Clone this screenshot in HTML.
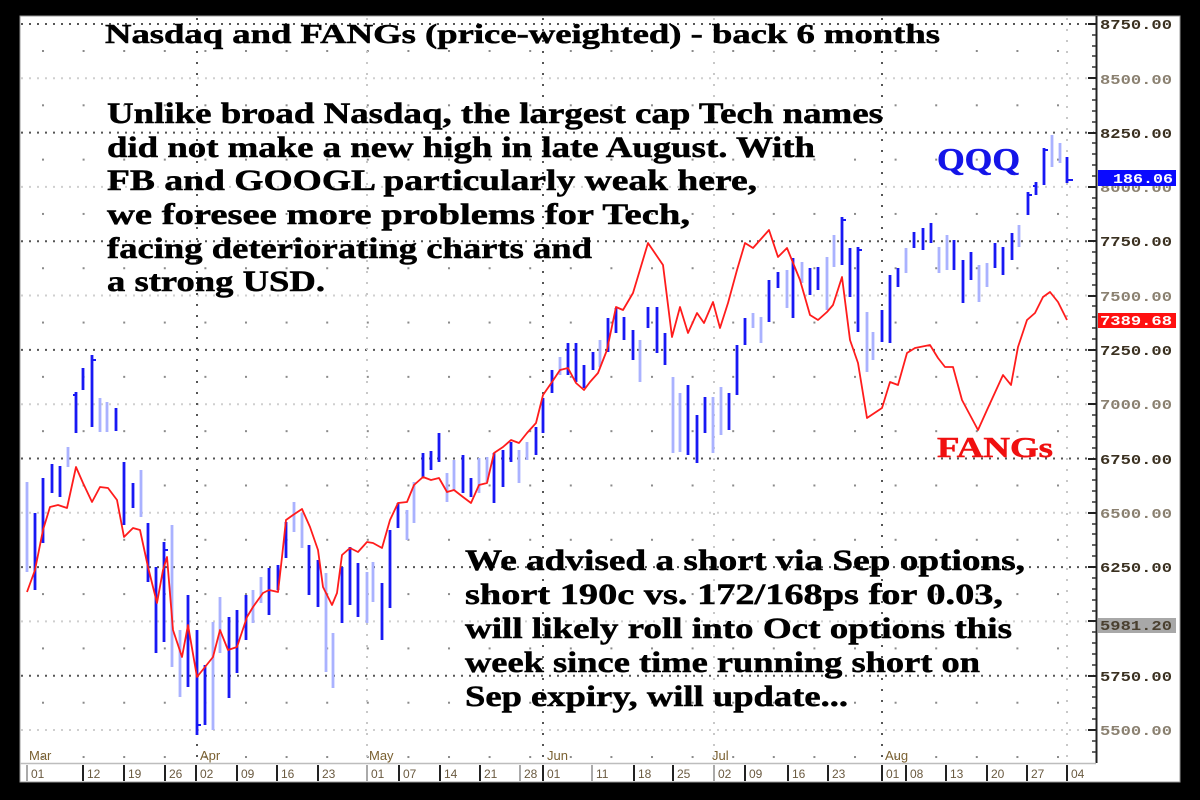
<!DOCTYPE html>
<html><head><meta charset="utf-8"><style>
html,body{margin:0;padding:0;background:#000;}
svg{display:block;}
.t{font-family:"Liberation Serif",serif;font-weight:bold;}
.ax{font-family:"Liberation Mono",monospace;font-size:14px;font-weight:bold;}
.dt{font-family:"Liberation Sans",sans-serif;font-size:12px;fill:#6a5a40;}
.mo{font-family:"Liberation Sans",sans-serif;font-size:13px;fill:#7a6030;}
</style></head><body>
<svg width="1200" height="800" viewBox="0 0 1200 800" xmlns="http://www.w3.org/2000/svg">
<defs>
<pattern id="sd" patternUnits="userSpaceOnUse" x="42" y="50" width="40.6" height="54.31">
<rect x="0" y="0" width="2" height="2" fill="#8a8a8a"/>
</pattern>
</defs>
<rect x="0" y="0" width="1200" height="800" fill="#000"/>
<rect x="20" y="16" width="1160" height="766" fill="#fff" stroke="#999" stroke-width="1"/>

<rect x="21" y="17" width="1074" height="745" fill="url(#sd)"/>

<g stroke="#cfcfcf" stroke-width="2" stroke-dasharray="2 6">
<line x1="21" y1="78.3" x2="1094" y2="78.3"/>
<line x1="21" y1="186.9" x2="1094" y2="186.9"/>
<line x1="21" y1="295.5" x2="1094" y2="295.5"/>
<line x1="21" y1="404.2" x2="1094" y2="404.2"/>
<line x1="21" y1="512.8" x2="1094" y2="512.8"/>
<line x1="21" y1="621.4" x2="1094" y2="621.4"/>
<line x1="21" y1="730" x2="1094" y2="730"/>
</g>
<g stroke="#555" stroke-width="2" stroke-dasharray="2 6">
<line x1="21" y1="24" x2="1094" y2="24"/>
<line x1="21" y1="132.6" x2="1094" y2="132.6"/>
<line x1="21" y1="241.2" x2="1094" y2="241.2"/>
<line x1="21" y1="349.9" x2="1094" y2="349.9"/>
<line x1="21" y1="458.5" x2="1094" y2="458.5"/>
<line x1="21" y1="567.1" x2="1094" y2="567.1"/>
<line x1="21" y1="675.7" x2="1094" y2="675.7"/>
</g>
<g stroke="#555" stroke-width="2" stroke-dasharray="2 9">
<line x1="197" y1="18" x2="197" y2="762"/>
<line x1="543" y1="18" x2="543" y2="762"/>
<line x1="882" y1="18" x2="882" y2="762"/>
</g>
<g stroke="#c8c8c8" stroke-width="2" stroke-dasharray="2 9">
<line x1="367" y1="18" x2="367" y2="762"/>
<line x1="714" y1="18" x2="714" y2="762"/>
<line x1="1067" y1="18" x2="1067" y2="762"/>
</g>

<path fill="none" stroke="#aab2ff" stroke-width="2.8" d="
M27 482V572M68 447V467M100 398V432M107 402V432M141 470V517M172 525V667M180 630V697M213 622V730M220 597V653
M253 590V623M261 577V603M294 502V532M302 513V548M326 573V672M333 633V688M367 572V623M373 562V602M407 510V540
M414 482V523M447 473V502M454 460V490M479 458V493M487 457V482M519 450V483M527 442V460M560 357V375M600 340V367
M640 340V382M673 377V453M680 393V452M713 397V453M721 387V435M753 313V328M761 317V343M787 270V308M802 262V283
M827 257V310M834 235V267M867 312V372M873 332V360M906 248V273M939 247V273M947 235V270M979 265V302M987 263V287
M1019 225V247M1052 135V167M1060 143V163"/>
<path fill="none" stroke="#1818f4" stroke-width="2.8" d="
M35 513V590M43 478V543M52 464V493M60 466V497M76 392V433M83 368V390M92 355V427M116 408V431M124 462V525M133 483V508
M148 523V582M156 567V653M164 542V642M188 595V687M197 630V735M205 665V725M229 617V698M237 610V673M246 595V640
M269 568V615M278 565V590M286 522V558M309 545V595M318 560V607M342 567V623M350 547V605M358 563V617M382 583V640
M390 530V608M398 503V528M423 453V477M431 451V470M439 433V462M463 455V493M471 478V497M494 453V503M503 450V487
M511 442V462M536 427V455M543 398V433M552 370V393M568 343V375M576 343V382M584 365V388M593 352V370M608 318V352
M616 308V333M624 317V340M633 330V360M648 307V328M657 307V353M665 333V365M688 385V455M697 415V463M705 397V433
M729 393V430M737 345V395M745 318V345M769 280V322M778 272V288M793 258V318M810 268V295M818 267V290M842 217V265
M850 248V297M858 247V332M882 310V342M890 275V343M898 268V287M914 232V248M923 228V250M931 223V243M954 240V270
M963 260V303M971 252V280M995 243V268M1003 247V275M1012 233V260M1028 192V215M1036 182V195M1044 148V185M1067 157V183"/>
<path fill="none" stroke="#1818f4" stroke-width="2" d="M1067 180h6M1044 150h4M1028 195h4M1036 186h-3M76 395h-3M92 360h4M842 220h4M858 250h4M197 725h4M164 550h4"/>

<polyline fill="none" stroke="#ff1c1c" stroke-width="1.8" stroke-linejoin="round" points="
27,592 35,570 43,530 50,507 58,505 67,508 76,467 83,483 92,502 100,487 108,488 117,500 124,537 133,528 140,530
148,567 157,603 163,570 167,557 173,630 182,657 188,625 197,677 205,667 213,657 220,630 228,650 237,647 247,617
253,607 263,593 269,590 278,592 282,557 286,520 293,515 302,509 310,527 318,550 323,587 332,605 337,593 342,555
350,548 358,552 367,542 373,543 382,548 390,520 398,503 407,502 414,485 423,477 431,480 439,478 447,492 454,490
463,497 471,503 479,485 487,483 494,453 503,447 511,440 519,443 527,433 536,423 543,395 552,382 560,370 568,368
576,383 584,390 590,382 598,373 607,350 616,307 623,310 633,293 648,243 663,265 672,337 680,307 688,333 697,313
704,323 713,302 720,328 728,303 737,270 745,243 753,248 769,230 778,257 787,248 800,280 810,315 818,320 827,312
833,305 842,277 850,340 858,363 867,418 882,408 890,382 898,385 907,353 915,348 930,345 938,358 945,367 953,367
962,400 978,430 987,410 1003,375 1011,385 1018,347 1027,320 1035,313 1043,297 1050,292 1058,302 1067,320"/>

<line x1="1096.5" y1="16" x2="1096.5" y2="763" stroke="#222" stroke-width="2"/>
<path fill="none" stroke="#333" stroke-width="1.5" d="
M1092 35h4M1092 46h4M1092 56h4M1092 67h4M1092 89h4M1092 100h4M1092 111h4M1092 122h4M1092 143h4M1092 154h4M1092 165h4M1092 176h4
M1092 198h4M1092 208h4M1092 219h4M1092 230h4M1092 252h4M1092 263h4M1092 274h4M1092 285h4M1092 306h4M1092 317h4M1092 328h4M1092 339h4
M1092 361h4M1092 371h4M1092 382h4M1092 393h4M1092 415h4M1092 426h4M1092 437h4M1092 448h4M1092 469h4M1092 480h4M1092 491h4M1092 502h4
M1092 524h4M1092 534h4M1092 545h4M1092 556h4M1092 578h4M1092 589h4M1092 600h4M1092 611h4M1092 632h4M1092 643h4M1092 654h4M1092 665h4
M1092 687h4M1092 697h4M1092 708h4M1092 719h4M1092 741h4M1092 752h4"/>
<path fill="none" stroke="#222" stroke-width="2" d="M1088 24h8M1088 78h8M1088 133h8M1088 187h8M1088 241h8M1088 296h8M1088 350h8M1088 404h8M1088 459h8M1088 513h8M1088 567h8M1088 621h8M1088 676h8M1088 730h8"/>

<g class="ax">
<text x="1100" y="29" textLength="72" lengthAdjust="spacingAndGlyphs" fill="#3a3020">8750.00</text>
<text x="1100" y="84" textLength="72" lengthAdjust="spacingAndGlyphs" fill="#8a8070">8500.00</text>
<text x="1100" y="138" textLength="72" lengthAdjust="spacingAndGlyphs" fill="#3a3020">8250.00</text>
<text x="1100" y="192" textLength="72" lengthAdjust="spacingAndGlyphs" fill="#8a8070">8000.00</text>
<text x="1100" y="246" textLength="72" lengthAdjust="spacingAndGlyphs" fill="#3a3020">7750.00</text>
<text x="1100" y="301" textLength="72" lengthAdjust="spacingAndGlyphs" fill="#8a8070">7500.00</text>
<text x="1100" y="355" textLength="72" lengthAdjust="spacingAndGlyphs" fill="#3a3020">7250.00</text>
<text x="1100" y="409" textLength="72" lengthAdjust="spacingAndGlyphs" fill="#8a8070">7000.00</text>
<text x="1100" y="464" textLength="72" lengthAdjust="spacingAndGlyphs" fill="#3a3020">6750.00</text>
<text x="1100" y="518" textLength="72" lengthAdjust="spacingAndGlyphs" fill="#8a8070">6500.00</text>
<text x="1100" y="572" textLength="72" lengthAdjust="spacingAndGlyphs" fill="#3a3020">6250.00</text>
<text x="1100" y="681" textLength="72" lengthAdjust="spacingAndGlyphs" fill="#3a3020">5750.00</text>
<text x="1100" y="735" textLength="72" lengthAdjust="spacingAndGlyphs" fill="#8a8070">5500.00</text>
</g>
<rect x="1098" y="170" width="78" height="16" fill="#0a0aff"/>
<text class="ax" x="1113" y="183" textLength="60" lengthAdjust="spacingAndGlyphs" fill="#fff">186.06</text>
<rect x="1098" y="313" width="78" height="15" fill="#ff1010"/>
<text class="ax" x="1100" y="325" textLength="72" lengthAdjust="spacingAndGlyphs" fill="#fff">7389.68</text>
<rect x="1098" y="618" width="78" height="15" fill="#a8a8a8"/>
<text class="ax" x="1100" y="630" textLength="72" lengthAdjust="spacingAndGlyphs" fill="#4a4030">5981.20</text>

<line x1="20" y1="763.5" x2="1096" y2="763.5" stroke="#bdbdbd" stroke-width="1.5"/>
<g class="mo">
<text x="29" y="760">Mar</text>
<text x="200" y="760">Apr</text>
<text x="369" y="760">May</text>
<text x="547" y="760">Jun</text>
<text x="712" y="760">Jul</text>
<text x="885" y="760">Aug</text>
</g>
<path fill="none" stroke="#222" stroke-width="2" d="M83 765V781M124 765V781M165 765V781M196 765V781M237 765V781M277 765V781M318 765V781M399 765V781M440 765V781M480 765V781M543 765V781M634 765V781M673 765V781M745 765V781M788 765V781M828 765V781M882 765V781M906 765V781M946 765V781M987 765V781M1027 765V781M1067 765V781"/>
<path fill="none" stroke="#aaa" stroke-width="2" d="M27 765V781M367 765V781M520 765V781M592 765V781M714 765V781"/>
<g class="dt">
<text x="31" y="778">01</text>
<text x="87" y="778">12</text>
<text x="128" y="778">19</text>
<text x="169" y="778">26</text>
<text x="200" y="778">02</text>
<text x="241" y="778">09</text>
<text x="281" y="778">16</text>
<text x="322" y="778">23</text>
<text x="371" y="778">01</text>
<text x="403" y="778">07</text>
<text x="444" y="778">14</text>
<text x="484" y="778">21</text>
<text x="524" y="778">28</text>
<text x="547" y="778">01</text>
<text x="596" y="778">11</text>
<text x="638" y="778">18</text>
<text x="677" y="778">25</text>
<text x="718" y="778">02</text>
<text x="749" y="778">09</text>
<text x="792" y="778">16</text>
<text x="832" y="778">23</text>
<text x="886" y="778">01</text>
<text x="910" y="778">08</text>
<text x="950" y="778">13</text>
<text x="991" y="778">20</text>
<text x="1031" y="778">27</text>
<text x="1071" y="778">04</text>
</g>

<g class="t" fill="#000" stroke="#000" stroke-width="0.5">
<text x="105" y="43" font-size="27" textLength="835" lengthAdjust="spacingAndGlyphs">Nasdaq and FANGs (price-weighted) - back 6 months</text>
<text x="107" y="123" font-size="30" textLength="776" lengthAdjust="spacingAndGlyphs">Unlike broad Nasdaq, the largest cap Tech names</text>
<text x="107" y="157" font-size="30" textLength="708" lengthAdjust="spacingAndGlyphs">did not make a new high in late August. With</text>
<text x="107" y="190" font-size="30" textLength="650" lengthAdjust="spacingAndGlyphs">FB and GOOGL particularly weak here,</text>
<text x="107" y="224" font-size="30" textLength="583" lengthAdjust="spacingAndGlyphs">we foresee more problems for Tech,</text>
<text x="107" y="258" font-size="30" textLength="485" lengthAdjust="spacingAndGlyphs">facing deteriorating charts and</text>
<text x="107" y="291" font-size="30" textLength="218" lengthAdjust="spacingAndGlyphs">a strong USD.</text>
<text x="465" y="570" font-size="30" textLength="560" lengthAdjust="spacingAndGlyphs">We advised a short via Sep options,</text>
<text x="465" y="604" font-size="30" textLength="538" lengthAdjust="spacingAndGlyphs">short 190c vs. 172/168ps for 0.03,</text>
<text x="465" y="638" font-size="30" textLength="547" lengthAdjust="spacingAndGlyphs">will likely roll into Oct options this</text>
<text x="465" y="672" font-size="30" textLength="515" lengthAdjust="spacingAndGlyphs">week since time running short on</text>
<text x="465" y="706" font-size="30" textLength="383" lengthAdjust="spacingAndGlyphs">Sep expiry, will update...</text>
</g>
<text class="t" x="937" y="170" font-size="32" fill="#1414e8" stroke="#1414e8" stroke-width="0.5" textLength="83" lengthAdjust="spacingAndGlyphs">QQQ</text>
<text class="t" x="937" y="457" font-size="29" fill="#f01010" stroke="#f01010" stroke-width="0.5" textLength="116" lengthAdjust="spacingAndGlyphs">FANGs</text>
</svg>
</body></html>
